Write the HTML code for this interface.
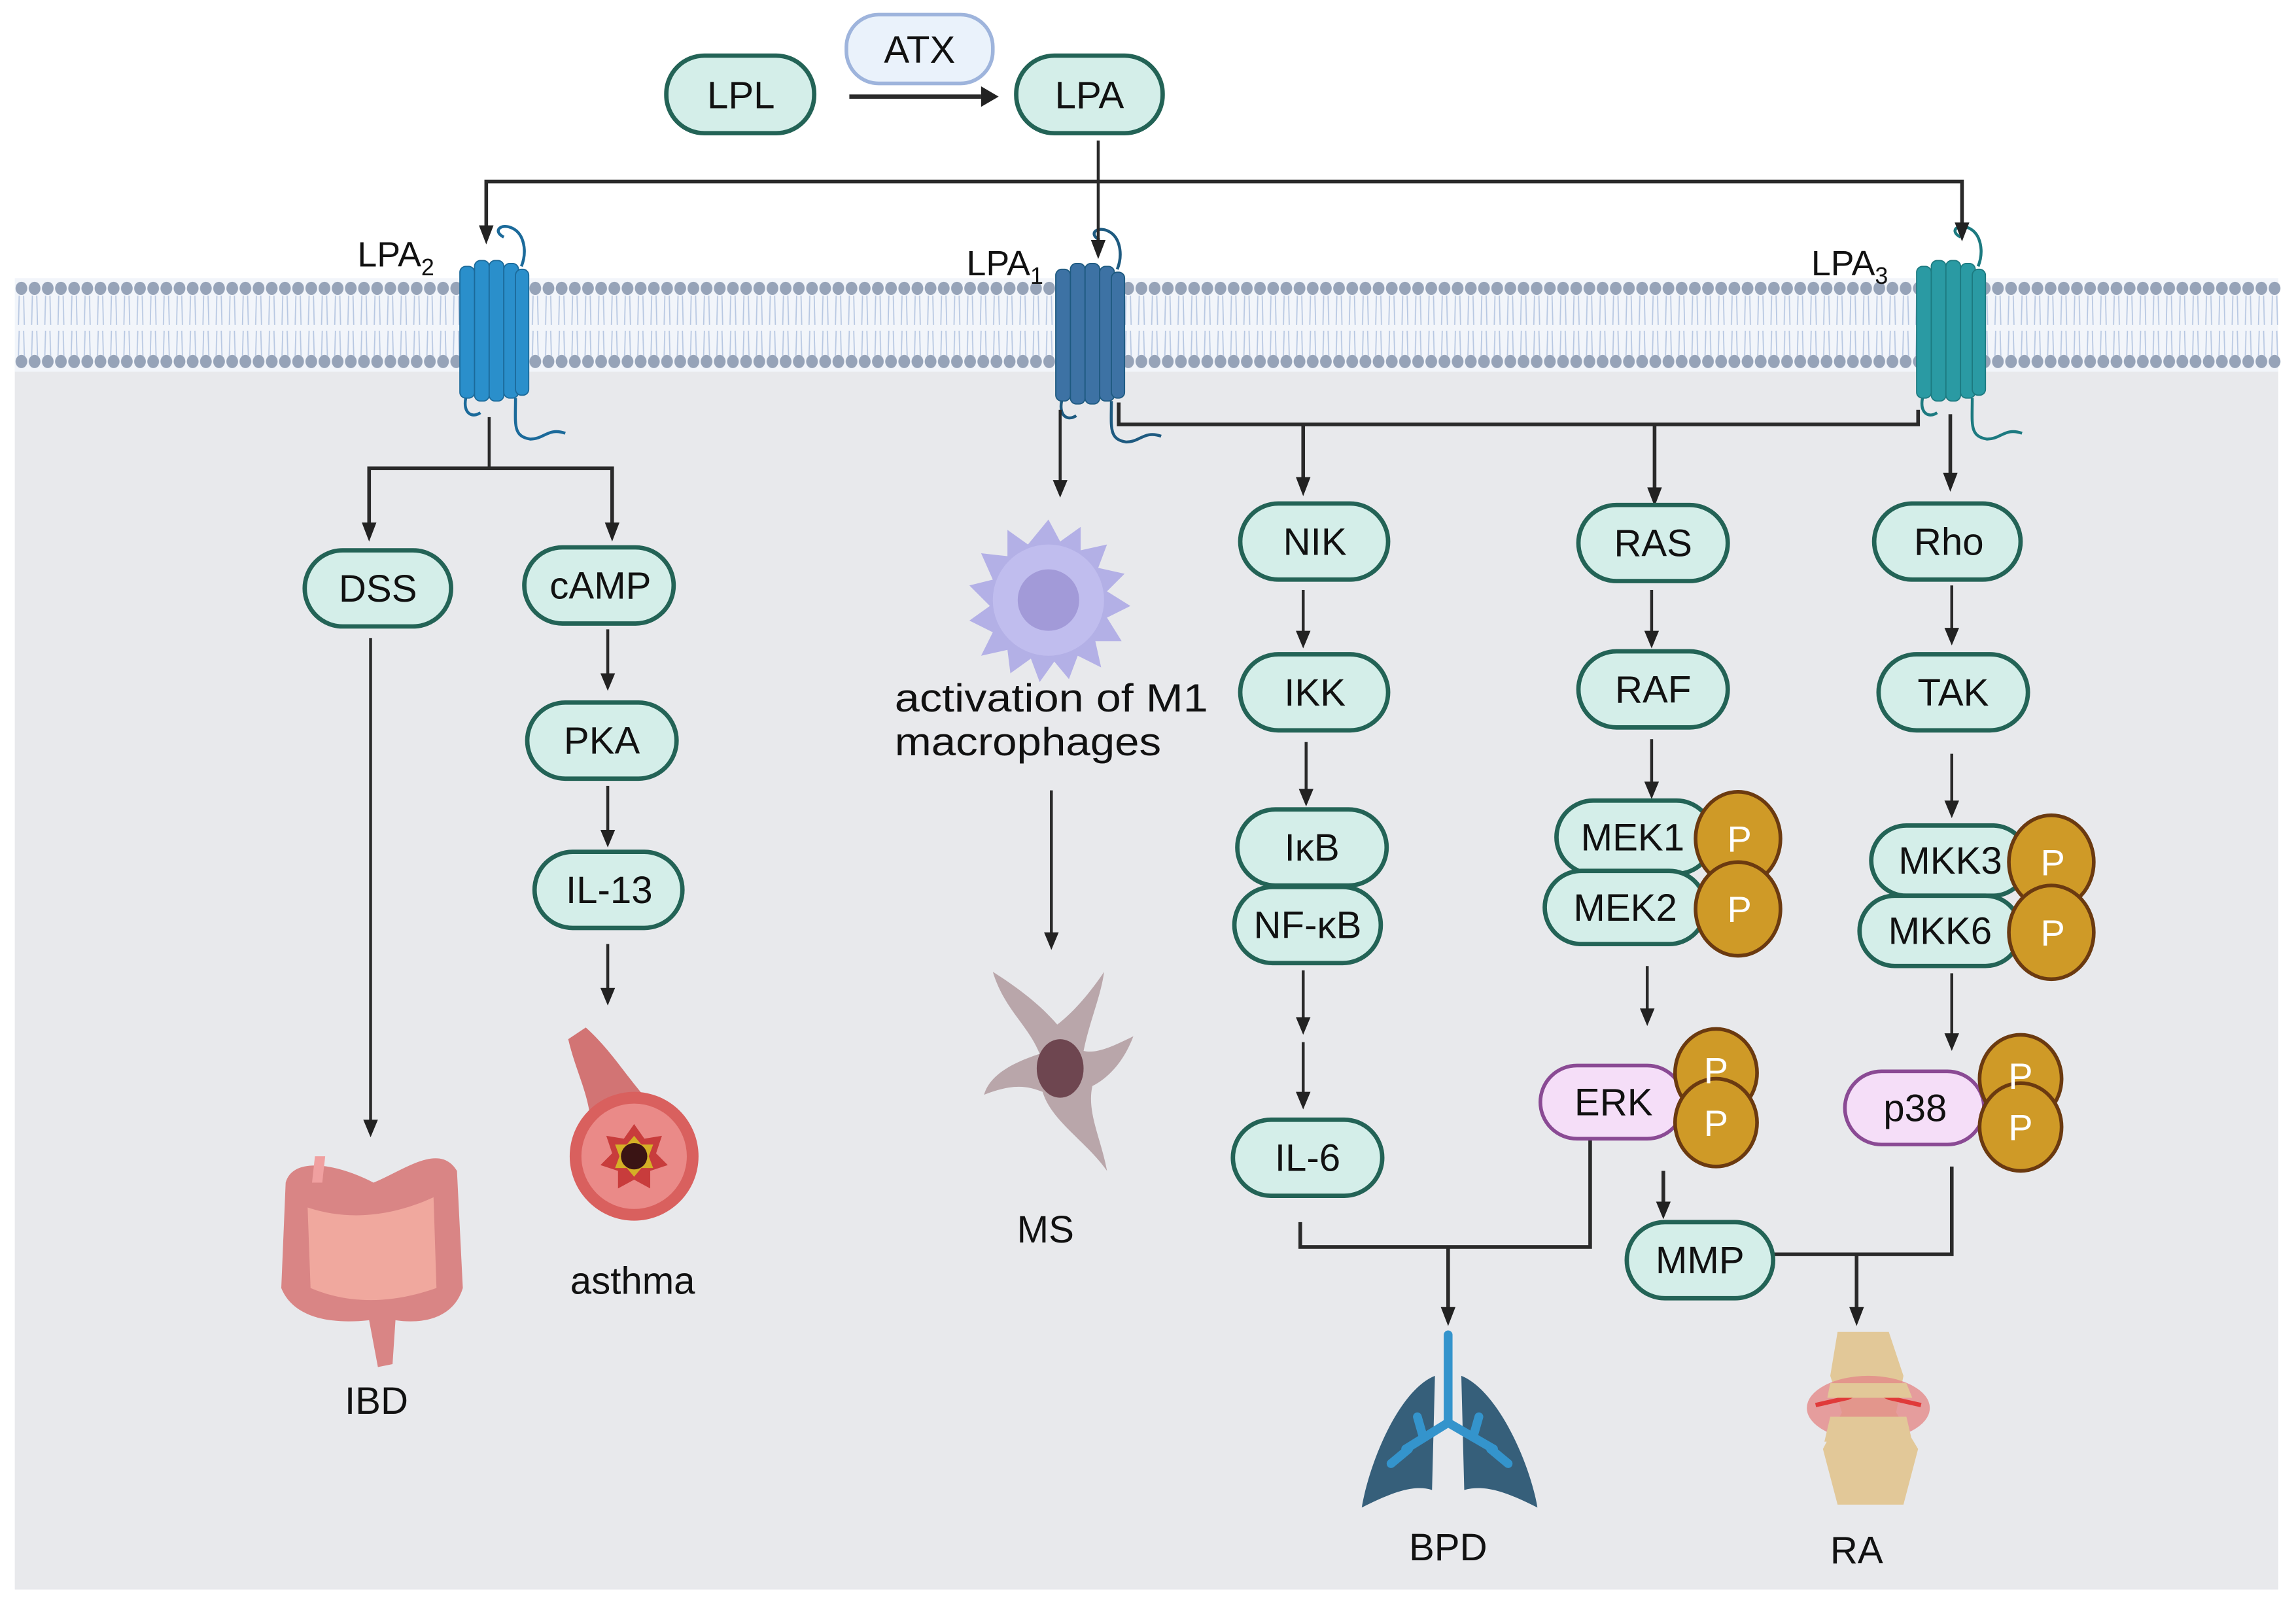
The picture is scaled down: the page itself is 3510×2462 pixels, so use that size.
<!DOCTYPE html>
<html><head><meta charset="utf-8"><style>
html,body{margin:0;padding:0;background:#fff;}
svg{display:block;}
text{font-family:"Liberation Sans",sans-serif;}
</style></head><body>
<svg width="3510" height="2462" viewBox="0 0 1568 1100" xmlns="http://www.w3.org/2000/svg">
<defs>
<pattern id="tails" x="10" y="0" width="9" height="1100" patternUnits="userSpaceOnUse">
<path d="M3,202 L2.5,222 M6,202 L6.5,222 M3,226 L2.5,243 M6,226 L6.5,243" stroke="#b8c8e2" stroke-width="0.8" fill="none"/>
<ellipse cx="4.5" cy="197" rx="4" ry="4.5" fill="#96a3b8"/>
<ellipse cx="4.5" cy="247" rx="4" ry="4.5" fill="#96a3b8"/>
</pattern>
<g id="gpcr">
<path d="M6,-70 c-8,-4 -2,-10 6,-6 c8,4 10,16 6,26" stroke-width="2" fill="none"/>
<rect x="-24" y="-50" width="10" height="90" rx="4"/>
<rect x="-14" y="-54" width="10" height="96" rx="4"/>
<rect x="-4" y="-54" width="10" height="96" rx="4"/>
<rect x="6" y="-52" width="10" height="92" rx="4"/>
<rect x="14" y="-48" width="9" height="86" rx="4"/>
<path d="M14,40 c0,18 -2,26 10,28 c10,0 12,-8 24,-4" stroke-width="2" fill="none"/>
<path d="M-20,40 c-2,10 4,14 10,10" stroke-width="2" fill="none"/>
</g>
</defs>

<rect x="10" y="245" width="1546" height="841" fill="#e8e9ec"/>
<rect x="10" y="190" width="1546" height="64" fill="#f2f5fa"/>
<rect x="10" y="190" width="1548" height="64" fill="url(#tails)"/>

<g transform="translate(338,232)" fill="#2a8fcb" stroke="#1b5f8c" stroke-width="0.8"><use href="#gpcr" stroke="#1b6a9a"/></g>
<g transform="translate(745,234)" fill="#3d72a4" stroke="#2a5278" stroke-width="0.8"><use href="#gpcr" stroke="#1e5a80"/></g>
<g transform="translate(1333,232)" fill="#2a9aa3" stroke="#1c6e75" stroke-width="0.8"><use href="#gpcr" stroke="#1c7a80"/></g>

<g font-size="24" fill="#111">
<text x="244" y="182">LPA<tspan font-size="16" dy="6">2</tspan></text>
<text x="660" y="188">LPA<tspan font-size="16" dy="6">1</tspan></text>
<text x="1237" y="188">LPA<tspan font-size="16" dy="6">3</tspan></text>
</g>

<g stroke="#2a2a2a" stroke-width="2" fill="none">
<line x1="580" y1="66" x2="670" y2="66" stroke-width="3"/>
<line x1="750" y1="96" x2="750" y2="166"/>
<polyline points="332,158 332,124 1340,124 1340,156" stroke-width="2.5"/>
<polyline points="334,285 334,320"/>
<polyline points="252,362 252,320 418,320 418,362" stroke-width="2.5"/>
<line x1="415" y1="430" x2="415" y2="463"/>
<line x1="415" y1="537" x2="415" y2="570"/>
<line x1="415" y1="645" x2="415" y2="678"/>
<line x1="253" y1="436" x2="253" y2="768"/>
<line x1="724" y1="280" x2="724" y2="332"/>
<line x1="718" y1="540" x2="718" y2="640"/>
<polyline points="764,275 764,290 1310,290 1310,280" stroke-width="2.5"/>
<line x1="890" y1="290" x2="890" y2="330" stroke-width="2.5"/>
<line x1="1130" y1="290" x2="1130" y2="337" stroke-width="2.5"/>
<line x1="1332" y1="283" x2="1332" y2="327" stroke-width="2.5"/>
<line x1="890" y1="403" x2="890" y2="434"/>
<line x1="892" y1="507" x2="892" y2="542"/>
<line x1="890" y1="663" x2="890" y2="698"/>
<line x1="890" y1="712" x2="890" y2="749"/>
<line x1="1128" y1="403" x2="1128" y2="434"/>
<line x1="1128" y1="505" x2="1128" y2="537"/>
<line x1="1125" y1="660" x2="1125" y2="692"/>
<line x1="1333" y1="400" x2="1333" y2="432"/>
<line x1="1333" y1="515" x2="1333" y2="550"/>
<line x1="1333" y1="665" x2="1333" y2="709"/>
<polyline points="888,835 888,852 1086,852 1086,770" stroke-width="2.5"/>
<line x1="989" y1="852" x2="989" y2="897" stroke-width="2.5"/>
<line x1="1136" y1="800" x2="1136" y2="824" stroke-width="2.5"/>
<polyline points="1211,857 1333,857 1333,797" stroke-width="2.5"/>
<line x1="1268" y1="857" x2="1268" y2="897" stroke-width="2.5"/>
</g>
<g fill="#222">
<path d="M670,59 L682,66 L670,73Z"/>
<path d="M745,164 L750,177 L755,164Z"/>
<path d="M327,154 L332,167 L337,154Z"/>
<path d="M1335,152 L1340,165 L1345,152Z"/>
<path d="M247,357 L252,370 L257,357Z"/>
<path d="M413,357 L418,370 L423,357Z"/>
<path d="M410,460 L415,472 L420,460Z"/>
<path d="M410,567 L415,579 L420,567Z"/>
<path d="M410,675 L415,687 L420,675Z"/>
<path d="M248,765 L253,777 L258,765Z"/>
<path d="M719,328 L724,340 L729,328Z"/>
<path d="M713,637 L718,649 L723,637Z"/>
<path d="M885,326 L890,339 L895,326Z"/>
<path d="M1125,333 L1130,346 L1135,333Z"/>
<path d="M1327,323 L1332,336 L1337,323Z"/>
<path d="M885,431 L890,443 L895,431Z"/>
<path d="M887,539 L892,551 L897,539Z"/>
<path d="M885,695 L890,707 L895,695Z"/>
<path d="M885,746 L890,758 L895,746Z"/>
<path d="M1123,431 L1128,443 L1133,431Z"/>
<path d="M1123,534 L1128,546 L1133,534Z"/>
<path d="M1120,689 L1125,701 L1130,689Z"/>
<path d="M1328,429 L1333,441 L1338,429Z"/>
<path d="M1328,547 L1333,559 L1338,547Z"/>
<path d="M1328,706 L1333,718 L1338,706Z"/>
<path d="M984,893 L989,906 L994,893Z"/>
<path d="M1131,821 L1136,833 L1141,821Z"/>
<path d="M1263,893 L1268,906 L1273,893Z"/>
</g>

<g fill="#d4eee9" stroke="#236356" stroke-width="3">
<rect x="455" y="38" width="101" height="53" rx="26"/>
<rect x="694" y="38" width="100" height="53" rx="26"/>
<rect x="208" y="376" width="100" height="52" rx="26"/>
<rect x="358" y="374" width="102" height="52" rx="26"/>
<rect x="360" y="480" width="102" height="52" rx="26"/>
<rect x="365" y="582" width="101" height="52" rx="26"/>
<rect x="847" y="344" width="101" height="52" rx="26"/>
<rect x="847" y="447" width="101" height="52" rx="26"/>
<rect x="845" y="553" width="102" height="52" rx="26"/>
<rect x="843" y="606" width="100" height="52" rx="26"/>
<rect x="842" y="765" width="102" height="52" rx="26"/>
<rect x="1078" y="345" width="102" height="52" rx="26"/>
<rect x="1078" y="445" width="102" height="52" rx="26"/>
<rect x="1280" y="344" width="100" height="52" rx="26"/>
<rect x="1283" y="447" width="102" height="52" rx="26"/>
<rect x="1063" y="547" width="107" height="50" rx="25"/>
<rect x="1055" y="595" width="110" height="50" rx="25"/>
<rect x="1278" y="564" width="107" height="48" rx="24"/>
<rect x="1270" y="612" width="110" height="48" rx="24"/>
<rect x="1111" y="835" width="100" height="52" rx="26"/>
</g>
<rect x="578" y="10" width="100" height="47" rx="22" fill="#eaf2fb" stroke="#9eb4dc" stroke-width="2.5"/>
<g fill="#f5def8" stroke="#8a4a94" stroke-width="2.5">
<rect x="1052" y="728" width="98" height="50" rx="25"/>
<rect x="1260" y="732" width="95" height="50" rx="25"/>
</g>
<g fill="#cf9a27" stroke="#6b3a10" stroke-width="2.5">
<ellipse cx="1187" cy="573" rx="29" ry="32"/>
<ellipse cx="1187" cy="621" rx="29" ry="32"/>
<ellipse cx="1401" cy="589" rx="29" ry="32"/>
<ellipse cx="1401" cy="637" rx="29" ry="32"/>
<ellipse cx="1172" cy="733" rx="28" ry="30"/>
<ellipse cx="1172" cy="767" rx="28" ry="30"/>
<ellipse cx="1380" cy="737" rx="28" ry="30"/>
<ellipse cx="1380" cy="770" rx="28" ry="30"/>
</g>
<g font-size="25" fill="#fff" text-anchor="middle">
<text x="1188" y="582">P</text><text x="1188" y="630">P</text>
<text x="1402" y="598">P</text><text x="1402" y="646">P</text>
<text x="1172" y="740">P</text><text x="1172" y="776">P</text>
<text x="1380" y="744">P</text><text x="1380" y="779">P</text>
</g>
<g font-size="26" fill="#111" text-anchor="middle">
<text x="506" y="74">LPL</text>
<text x="628" y="43">ATX</text>
<text x="744" y="74">LPA</text>
<text x="258" y="411">DSS</text>
<text x="410" y="409">cAMP</text>
<text x="411" y="515">PKA</text>
<text x="416" y="617">IL-13</text>
<text x="898" y="379">NIK</text>
<text x="898" y="482">IKK</text>
<text x="896" y="588">IκB</text>
<text x="893" y="641">NF-κB</text>
<text x="893" y="800">IL-6</text>
<text x="1129" y="380">RAS</text>
<text x="1129" y="480">RAF</text>
<text x="1331" y="379">Rho</text>
<text x="1334" y="482">TAK</text>
<text x="1115" y="581">MEK1</text>
<text x="1110" y="629">MEK2</text>
<text x="1332" y="597">MKK3</text>
<text x="1325" y="645">MKK6</text>
<text x="1102" y="762">ERK</text>
<text x="1308" y="766">p38</text>
<text x="1161" y="870">MMP</text>
<text x="257" y="966">IBD</text>
<text x="432" y="884">asthma</text>
<text x="714" y="849">MS</text>
<text x="989" y="1066">BPD</text>
<text x="1268" y="1068">RA</text>
</g>
<g font-size="27" fill="#111">
<text x="611" y="486" textLength="214" lengthAdjust="spacingAndGlyphs">activation of M1</text>
<text x="611" y="516" textLength="182" lengthAdjust="spacingAndGlyphs">macrophages</text>
</g>

<g transform="translate(716,410)">
<polygon points="0,-55 8,-40 22,-50 22,-34 40,-38 34,-22 52,-18 40,-6 56,4 40,12 50,28 32,28 36,46 20,38 14,54 4,42 -6,56 -12,40 -26,50 -28,34 -46,38 -38,22 -54,14 -40,4 -54,-10 -38,-14 -46,-32 -28,-30 -28,-48 -14,-38" fill="#b3b0e6"/>
<circle r="38" fill="#c0bdee"/>
<circle r="21" fill="#a29ad8"/>
</g>
<g transform="translate(722,730)">
<path d="M-44,-66 C-36,-40 -20,-30 -12,-10 C-30,-4 -46,4 -50,18 C-30,10 -20,12 -10,16 C-4,36 20,50 34,70 C30,48 20,30 24,12 C36,6 46,-6 52,-22 C36,-14 26,-10 18,-12 C22,-32 30,-50 32,-66 C20,-48 8,-36 0,-30 C-12,-44 -28,-56 -44,-66Z" fill="#b9a6aa"/>
<ellipse cx="2" cy="0" rx="16" ry="20" fill="#6e4650"/>
</g>
<g>
<path d="M195,808 C200,790 230,795 255,808 C275,800 300,780 312,800 L316,880 C310,900 290,905 270,902 L268,932 L258,934 L252,902 C225,905 200,900 192,880Z" fill="#d98585"/>
<path d="M210,825 C240,835 270,830 296,818 L298,880 C270,890 240,892 212,880Z" fill="#f0a89e"/>
<path d="M215,790 L222,790 L220,808 L213,808Z" fill="#f0a0a0"/>
</g>
<g>
<path d="M400,702 C420,720 430,740 450,760 L470,790 L400,790 C410,760 395,740 388,710Z" fill="#d27474"/>
<circle cx="433" cy="790" r="44" fill="#d9605e"/>
<circle cx="433" cy="790" r="36" fill="#ea8a88"/>
<polygon points="433,768 440,778 452,776 448,788 456,796 444,800 444,812 433,806 422,812 422,800 410,796 418,788 414,776 426,778" fill="#c83c3c"/>
<polygon points="433,776 438,782 446,782 443,790 446,798 438,798 433,804 428,798 420,798 423,790 420,782 428,782" fill="#d4b026"/>
<circle cx="433" cy="790" r="9" fill="#3a1414"/>
</g>
<g>
<path d="M980,940 C955,950 935,1000 930,1030 C950,1020 965,1014 978,1018 L980,940Z" fill="#365f7a"/>
<path d="M998,940 C1023,950 1045,1000 1050,1030 C1030,1020 1015,1014 1000,1018 L998,940Z" fill="#365f7a"/>
<path d="M989,912 L989,972 M989,972 L960,990 M989,972 L1020,990 M972,982 L968,968 M1006,982 L1010,968 M962,990 L950,1000 M1018,990 L1030,1000" stroke="#3494cc" stroke-width="6" stroke-linecap="round" fill="none"/>
</g>
<g>
<path d="M1255,910 L1290,910 L1300,940 L1295,965 L1310,990 L1300,1028 L1255,1028 L1245,990 L1258,965 L1250,940Z" fill="#e2c898"/>
<ellipse cx="1276" cy="962" rx="42" ry="22" fill="#e48a8a" opacity="0.8"/>
<path d="M1240,960 L1262,955 L1276,948 L1290,955 L1312,960" stroke="#e03a3a" stroke-width="3" fill="none"/>
<path d="M1250,945 L1302,945 L1306,955 L1248,955Z" fill="#e2c898"/>
<path d="M1250,968 L1302,968 L1306,985 L1246,985Z" fill="#e2c898"/>
</g>
</svg>
</body></html>
